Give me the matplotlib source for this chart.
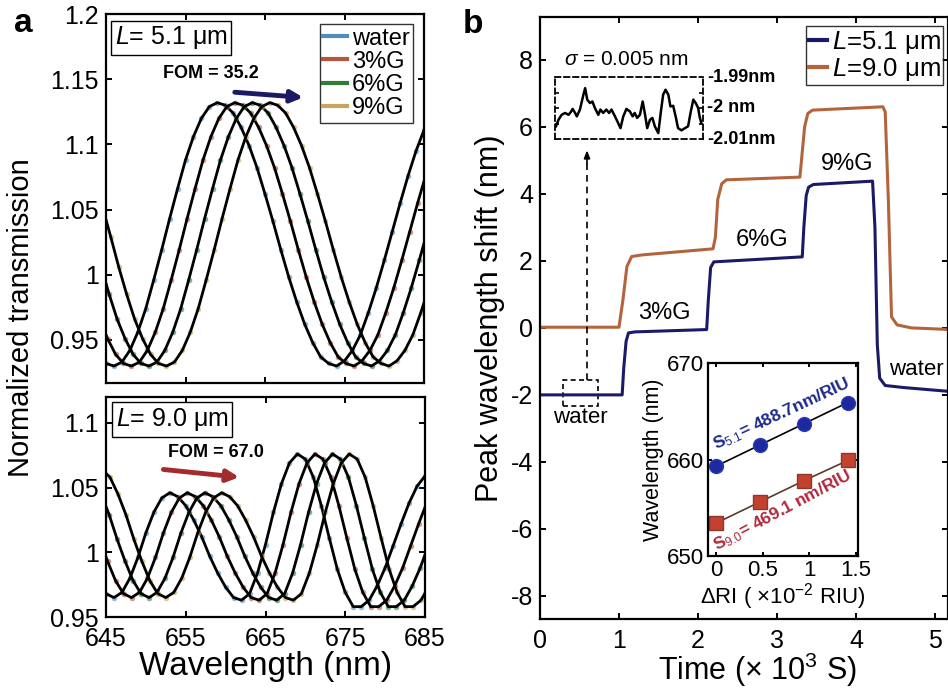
import numpy as np
import matplotlib.pyplot as plt
from matplotlib.patches import Rectangle
from matplotlib.lines import Line2D
from matplotlib.ticker import FormatStrFormatter

plt.rcParams['font.family'] = ['Liberation Sans', 'DejaVu Sans']
plt.rcParams['mathtext.fontset'] = 'custom'
plt.rcParams['mathtext.rm'] = 'Liberation Sans'
plt.rcParams['mathtext.it'] = 'Liberation Sans:italic'
plt.rcParams['mathtext.bf'] = 'Liberation Sans:bold'
plt.rcParams['axes.unicode_minus'] = False
plt.rcParams['axes.linewidth'] = 1.6
plt.rcParams['xtick.direction'] = 'in'
plt.rcParams['ytick.direction'] = 'in'
plt.rcParams['xtick.major.size'] = 4
plt.rcParams['ytick.major.size'] = 4
plt.rcParams['xtick.major.width'] = 1.4
plt.rcParams['ytick.major.width'] = 1.4

# ---- panel a: transmission spectra (water reference, 1 nm steps) ----
wl_grid = np.arange(638, 689)
trans_51 = [1.051, 1.029, 1.006, 0.985, 0.966, 0.951, 0.939, 0.932, 0.930, 0.933,
            0.942, 0.956, 0.974, 0.996, 1.019, 1.043, 1.066, 1.088, 1.106, 1.120,
            1.129, 1.132, 1.130, 1.124, 1.113, 1.099, 1.082, 1.062, 1.041, 1.019,
            0.998, 0.979, 0.962, 0.948, 0.937, 0.932, 0.930, 0.934, 0.942, 0.954,
            0.971, 0.990, 1.011, 1.033, 1.055, 1.076, 1.095, 1.111, 1.122, 1.130,
            1.132]
trans_90 = [1.064, 1.058, 1.045, 1.029, 1.010, 0.993, 0.978, 0.968, 0.965, 0.969,
            0.980, 0.996, 1.015, 1.031, 1.042, 1.046, 1.043, 1.036, 1.025, 1.012,
            0.997, 0.984, 0.973, 0.965, 0.963, 0.968, 0.984, 1.006, 1.031, 1.053,
            1.069, 1.076, 1.072, 1.058, 1.036, 1.011, 0.987, 0.969, 0.958, 0.958,
            0.963, 0.974, 0.988, 1.005, 1.022, 1.038, 1.051, 1.059, 1.062, 1.061,
            1.057]
solutions = ['water', '3%G', '6%G', '9%G']
sol_colors = ['#4f8fc0', '#b5563f', '#2f7d3c', '#c9a45e']
shift_51 = [0.0, 2.2, 4.4, 6.6]
shift_90 = [0.0, 2.2, 4.4, 6.5]

# ---- panel b: real-time peak shift ----
t_51 = [0, 1.04, 1.06, 1.09, 1.12, 1.2, 2.11, 2.13, 2.16, 2.2, 3.32, 3.34, 3.37,
        3.40, 3.46, 4.21, 4.24, 4.27, 4.30, 4.37, 4.6, 5.2]
shift_t_51 = [-2.0, -2.0, -1.2, -0.4, -0.15, -0.12, -0.05, 0.8, 1.8, 1.97, 2.12,
              3.0, 3.95, 4.2, 4.28, 4.38, 3.0, -0.5, -1.5, -1.72, -1.78, -1.9]
t_90 = [0, 1.0, 1.05, 1.10, 1.16, 1.3, 2.19, 2.22, 2.25, 2.30, 2.36, 3.29, 3.31,
        3.35, 3.39, 3.45, 4.34, 4.37, 4.41, 4.45, 4.52, 4.7, 5.2]
shift_t_90 = [0.02, 0.02, 0.84, 1.83, 2.13, 2.18, 2.36, 2.7, 3.83, 4.3, 4.42, 4.5,
              5.0, 6.0, 6.4, 6.5, 6.6, 6.45, 3.82, 0.33, 0.09, 0.0, -0.05]

# baseline noise in water (seconds, nm)
noise_t = [300, 307, 316, 326, 336, 342, 348, 355, 360, 369, 379, 384, 390, 398,
           405, 412, 422, 428, 436, 445, 453, 460, 470, 479, 486, 494, 503, 513,
           521, 527, 534, 542, 550, 556, 563, 571, 578, 585, 595, 602, 609, 616,
           624, 630, 638, 646, 652, 662, 672, 681, 688, 696, 703, 710, 714, 719]
noise_nm = [-2.0059, -2.0038, -2.0022, -2.0016, -2.0022, -2.0014, -2.0003, -2.0016,
            -2.0027, -2.0005, -1.9957, -1.9936, -1.9973, -1.9984, -1.9979, -2.0000,
            -2.0022, -2.0005, -2.0016, -2.0005, -2.0016, -2.0005, -2.0027, -2.0048,
            -2.0065, -2.0027, -2.0003, -2.0011, -2.0027, -2.0016, -2.0032, -2.0022,
            -1.9979, -2.0016, -2.0065, -2.0038, -2.0032, -2.0059, -2.0081, -2.0016,
            -1.9957, -1.9941, -1.9957, -1.9995, -1.9993, -2.0032, -2.0065, -2.0072,
            -2.0065, -2.0059, -2.0016, -1.9973, -1.9984, -2.0000, -2.0027, -2.0048]

# sensitivity inset
d_ri = [0, 0.47, 0.94, 1.41]
peak_51 = [659.3, 661.5, 663.7, 665.9]
peak_90 = [653.4, 655.6, 657.8, 659.9]

navy = '#1b1a66'
brown = '#b4643c'

W, H = 948, 688
fig = plt.figure(figsize=(W / 100, H / 100), dpi=100)


def frac(left, top, right, bottom):
    return [left / W, 1 - bottom / H, (right - left) / W, (bottom - top) / H]


def box_ticks(ax):
    ax.tick_params(top=True, right=True, labelsize=18, pad=5)


ax1 = fig.add_axes(frac(106, 14, 424, 383))
ax2 = fig.add_axes(frac(106, 397, 425, 617))

for ax, base, shifts in [(ax1, trans_51, shift_51), (ax2, trans_90, shift_90)]:
    for name, col, s in zip(solutions, sol_colors, shifts):
        ax.plot(wl_grid + s, base, 'o', ms=4, color=col, alpha=0.6, mec='none')
        ax.plot(wl_grid + s, base, '-', color='k', lw=2)
    ax.set_xlim(645, 685)
    ax.set_xticks([645, 655, 665, 675, 685])
    ax.yaxis.set_major_formatter(FormatStrFormatter('%g'))
    box_ticks(ax)

ax1.set_ylim(0.917, 1.2)
ax1.set_yticks([0.95, 1.0, 1.05, 1.1, 1.15, 1.2])
ax1.tick_params(labelbottom=False)
ax2.set_ylim(0.95, 1.12)
ax2.set_yticks([0.95, 1.0, 1.05, 1.1])
ax2.tick_params(axis='x', pad=7)
ax2.set_xlabel('Wavelength (nm)', fontsize=24, labelpad=0)

handles = [Line2D([], [], color=c, lw=3) for c in sol_colors]
leg = ax1.legend(handles, solutions, loc='upper right', bbox_to_anchor=(0.965, 0.973),
                 fontsize=17, frameon=True, fancybox=False, edgecolor='k',
                 handlelength=1.0, handletextpad=0.2, borderpad=0.15,
                 labelspacing=0.05, borderaxespad=0)
leg.get_frame().set_linewidth(1.0)

ax1.text(0.028, 0.972, r'$\mathit{L}$= 5.1 μm', transform=ax1.transAxes, fontsize=18,
         va='top', ha='left',
         bbox=dict(boxstyle='square,pad=0.15', fc='white', ec='k', lw=1))
ax2.text(0.031, 0.96, r'$\mathit{L}$= 9.0 μm', transform=ax2.transAxes, fontsize=18,
         va='top', ha='left',
         bbox=dict(boxstyle='square,pad=0.15', fc='white', ec='k', lw=1))
ax1.text(658.2, 1.154, 'FOM = 35.2', fontsize=13, fontweight='bold', ha='center', va='center')
ax2.text(658.8, 1.077, 'FOM = 67.0', fontsize=13, fontweight='bold', ha='center', va='center')
ax1.annotate('', xy=(669.8, 1.136), xytext=(661.2, 1.140),
             arrowprops=dict(arrowstyle='-|>,head_width=0.35,head_length=0.7',
                             color=navy, lw=3.5, shrinkA=0, shrinkB=0))
ax2.annotate('', xy=(661.7, 1.058), xytext=(652.2, 1.064),
             arrowprops=dict(arrowstyle='-|>,head_width=0.35,head_length=0.7',
                             color='#a32b2b', lw=3.5, shrinkA=0, shrinkB=0))

fig.text(0.022, 1 - 318 / H, 'Normalized transmission', rotation=90, fontsize=21,
         ha='center', va='center')
fig.text(14 / W, 1 - 32 / H, 'a', fontsize=24, fontweight='bold', va='baseline')
fig.text(463 / W, 1 - 33 / H, 'b', fontsize=24, fontweight='bold', va='baseline')

# ---- panel b ----
axb = fig.add_axes(frac(540, 17, 948, 619))
axb.plot(t_90, shift_t_90, color=brown, lw=2.2)
axb.plot(t_51, shift_t_51, color=navy, lw=2.2)
axb.set_xlim(0, 5.165)
axb.set_ylim(-8.69, 9.28)
axb.set_xticks([0, 1, 2, 3, 4, 5])
axb.set_yticks([-8, -6, -4, -2, 0, 2, 4, 6, 8])
box_ticks(axb)
axb.tick_params(axis='x', pad=7)
axb.set_xlabel('Time (× 10$^3$ S)', fontsize=22, labelpad=0)
axb.xaxis.set_label_coords(0.532, -0.053)
axb.set_ylabel('Peak wavelength shift (nm)', fontsize=22, labelpad=4)

bh = [Line2D([], [], color=navy, lw=3), Line2D([], [], color=brown, lw=3)]
legb = axb.legend(bh, [r'$\mathit{L}$=5.1 μm', r'$\mathit{L}$=9.0 μm'], loc='upper right',
                  bbox_to_anchor=(0.988, 0.985), fontsize=18.5, frameon=True,
                  fancybox=False, edgecolor='k', handlelength=0.7, handletextpad=0.2,
                  borderpad=0.1, labelspacing=0.0, borderaxespad=0)
legb.get_frame().set_linewidth(1.0)

axb.text(1.58, 0.45, '3%G', fontsize=17, ha='center', va='center')
axb.text(2.81, 2.63, '6%G', fontsize=17, ha='center', va='center')
axb.text(3.89, 4.9, '9%G', fontsize=17, ha='center', va='center')
axb.text(0.51, -2.69, 'water', fontsize=16, ha='center', va='center')
axb.text(4.76, -1.25, 'water', fontsize=16, ha='center', va='center')
axb.add_patch(Rectangle((0.29, -2.33), 0.44, 0.78, fill=False, ls=(0, (3, 2)), lw=1.2))
axb.plot([0.595, 0.595], [-1.55, 5.0], color='k', ls=(0, (4, 3)), lw=1.2)
axb.annotate('', xy=(0.595, 5.3), xytext=(0.595, 4.9),
             arrowprops=dict(arrowstyle='-|>,head_width=0.18,head_length=0.45',
                             color='k', lw=1.2, shrinkA=0, shrinkB=0))
axb.text(1.09, 8.0, r'$\sigma$ = 0.005 nm', fontsize=15, ha='center', va='center')

# noise trace box
axn = fig.add_axes(frac(555, 77, 703, 139))
axn.plot(noise_t, noise_nm, color='k', lw=1.8)
axn.set_xlim(297, 724)
axn.set_ylim(-2.01, -1.99)
axn.set_xticks([])
axn.set_yticks([-2.005, -2.0, -1.995])
axn.tick_params(left=True, right=True, labelleft=False, length=3, width=1.2)
for sp in axn.spines.values():
    sp.set_linestyle((0, (3, 2)))
    sp.set_linewidth(1.3)
for yv, lab in [(-1.99, '-1.99nm'), (-2.0, '-2 nm'), (-2.01, '-2.01nm')]:
    axn.text(1.03, yv, lab, transform=axn.get_yaxis_transform(), fontsize=13,
             fontweight='bold', ha='left', va='center')

# sensitivity inset
axi = fig.add_axes(frac(708, 363, 858, 556))
axi.plot(d_ri, peak_51, '-', color='k', lw=1.2)
axi.plot(d_ri, peak_51, 'o', ms=10, color='#1c2a9e', mec='#2c3cb8', mew=1)
axi.plot(d_ri, peak_90, '-', color='#5a3a2a', lw=1.2)
axi.plot(d_ri, peak_90, 's', ms=10, color='#c2412f', mec='#8a3a2a', mew=1)
axi.set_xlim(-0.085, 1.52)
axi.set_ylim(650, 670)
axi.set_xticks([0, 0.5, 1, 1.5])
axi.set_yticks([650, 660, 670])
axi.xaxis.set_major_formatter(FormatStrFormatter('%g'))
axi.tick_params(top=True, right=True, labelsize=16, pad=3, length=3)
axi.set_ylabel('Wavelength (nm)', fontsize=15.5, labelpad=2)
axi.set_xlabel('ΔRI ( ×10$^{-2}$ RIU)', fontsize=16, labelpad=0)
axi.text(0.70, 664.7, r'S$_{5.1}$= 488.7nm/RIU', fontsize=12.5, fontweight='bold',
         color='#1b2a8a', rotation=25, ha='center', va='center', rotation_mode='anchor')
axi.text(0.71, 654.7, r'S$_{9.0}$= 469.1 nm/RIU', fontsize=12.5, fontweight='bold',
         color='#b0283c', rotation=28, ha='center', va='center', rotation_mode='anchor')

fig.savefig('out.png', dpi=100)
